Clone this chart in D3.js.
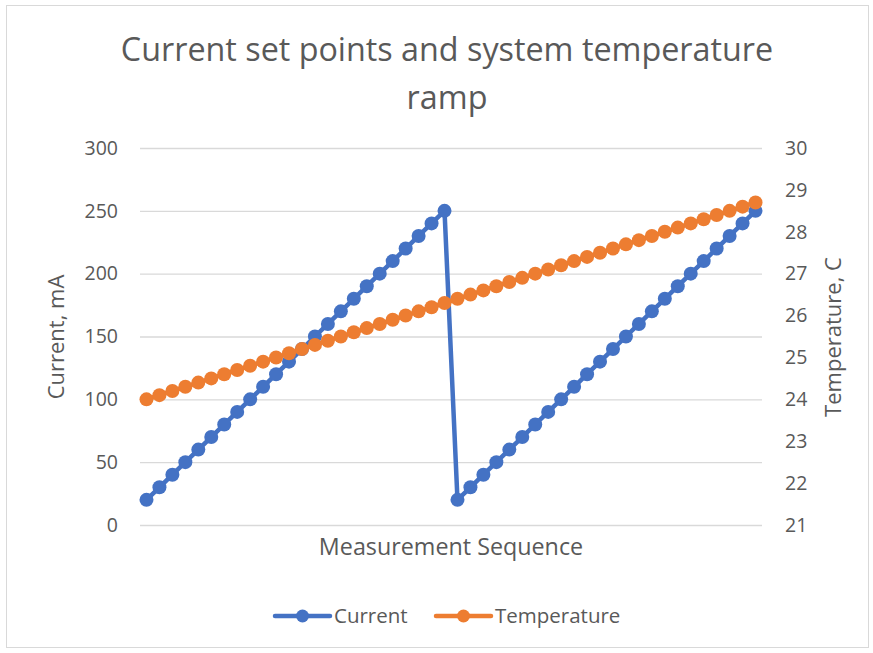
<!DOCTYPE html>
<html>
<head>
<meta charset="utf-8">
<script src="https://cdn.jsdelivr.net/npm/d3@7/dist/d3.min.js"></script>
<style>
  html, body { margin: 0; padding: 0; background: #fff; }
  svg { display: block; }
  text { font-family: "Open Sans", Lato, sans-serif; fill: #595959; }
</style>
</head>
<body>
<svg id="chart" width="873" height="653"></svg>
<script>
// Measurement sequence: two current sweeps of 24 set points each
const sequence = d3.range(1, 49);
const currentMA = [
  20, 30, 40, 50, 60, 70, 80, 90, 100, 110, 120, 130,
  140, 150, 160, 170, 180, 190, 200, 210, 220, 230, 240, 250,
  20, 30, 40, 50, 60, 70, 80, 90, 100, 110, 120, 130,
  140, 150, 160, 170, 180, 190, 200, 210, 220, 230, 240, 250
];
const temperatureC = [
  24.0, 24.1, 24.2, 24.3, 24.4, 24.5, 24.6, 24.7, 24.8, 24.9, 25.0, 25.1,
  25.2, 25.3, 25.4, 25.5, 25.6, 25.7, 25.8, 25.9, 26.0, 26.1, 26.2, 26.3,
  26.4, 26.5, 26.6, 26.7, 26.8, 26.9, 27.0, 27.1, 27.2, 27.3, 27.4, 27.5,
  27.6, 27.7, 27.8, 27.9, 28.0, 28.1, 28.2, 28.3, 28.4, 28.5, 28.6, 28.7
];
const currentTicks = [0, 50, 100, 150, 200, 250, 300];
const temperatureTicks = [21, 22, 23, 24, 25, 26, 27, 28, 29, 30];

const BLUE = "#4472C4", ORANGE = "#ED7D31";
const svg = d3.select("#chart");
const plot = { left: 140, right: 762, top: 148, bottom: 525 };

// Chart frame
svg.append("rect")
  .attr("x", 6.5).attr("y", 5.5).attr("width", 862).attr("height", 642)
  .attr("fill", "#fff").attr("stroke", "#d9d9d9").attr("stroke-width", 1);

const x = d3.scalePoint().domain(sequence)
  .range([plot.left, plot.right]).padding(0.5);
const yL = d3.scaleLinear().domain([0, 300]).range([plot.bottom, plot.top]);
const yR = d3.scaleLinear().domain([21, 30]).range([plot.bottom, plot.top]);

// Gridlines
svg.append("g").selectAll("line").data(currentTicks).join("line")
  .attr("x1", plot.left).attr("x2", plot.right)
  .attr("y1", d => yL(d) + 0.5).attr("y2", d => yL(d) + 0.5)
  .attr("stroke", "#d9d9d9").attr("stroke-width", 1.3);

// Left axis
const axL = svg.append("g").attr("transform", `translate(${plot.left - 22},0)`)
  .call(d3.axisLeft(yL).tickValues(currentTicks).tickSize(0).tickPadding(0));
axL.select(".domain").remove();
axL.selectAll("text").attr("font-size", 19.5).attr("fill", "#595959");

// Right axis
const axR = svg.append("g").attr("transform", `translate(${plot.right + 23},0)`)
  .call(d3.axisRight(yR).tickValues(temperatureTicks).tickSize(0).tickPadding(0));
axR.select(".domain").remove();
axR.selectAll("text").attr("font-size", 19.5).attr("fill", "#595959");

// Title
const title = svg.append("text").attr("text-anchor", "middle")
  .attr("font-size", 32.3).attr("fill", "#595959");
title.append("tspan").attr("x", 447).attr("y", 61).text("Current set points and system temperature");
title.append("tspan").attr("x", 447).attr("y", 109).text("ramp");

// Axis titles
svg.append("text").attr("text-anchor", "middle").attr("font-size", 22)
  .attr("transform", "translate(64,337) rotate(-90)").text("Current, mA");
svg.append("text").attr("text-anchor", "middle").attr("font-size", 22)
  .attr("transform", "translate(841,337) rotate(-90)").text("Temperature, C");
svg.append("text").attr("text-anchor", "middle").attr("font-size", 23.3)
  .attr("x", 451).attr("y", 555).text("Measurement Sequence");

// Series
function drawSeries(values, yScale, color) {
  const g = svg.append("g");
  g.append("path").datum(values)
    .attr("fill", "none").attr("stroke", color).attr("stroke-width", 4.5)
    .attr("stroke-linejoin", "round").attr("stroke-linecap", "round")
    .attr("d", d3.line().x((d, i) => x(sequence[i])).y(d => yScale(d)));
  g.selectAll("circle").data(values).join("circle")
    .attr("cx", (d, i) => x(sequence[i])).attr("cy", d => yScale(d))
    .attr("r", 7).attr("fill", color);
}
drawSeries(currentMA, yL, BLUE);
drawSeries(temperatureC, yR, ORANGE);

// Legend
const legend = [
  { name: "Current", color: BLUE, x: 275 },
  { name: "Temperature", color: ORANGE, x: 436 }
];
const lg = svg.append("g").selectAll("g").data(legend).join("g")
  .attr("transform", d => `translate(${d.x},616)`);
lg.append("line").attr("x1", 0).attr("x2", 55).attr("y1", 0).attr("y2", 0)
  .attr("stroke", d => d.color).attr("stroke-width", 4.5).attr("stroke-linecap", "round");
lg.append("circle").attr("cx", 27.5).attr("cy", 0).attr("r", 6.5).attr("fill", d => d.color);
lg.append("text").attr("x", 59).attr("y", 7).attr("font-size", 20.5).text(d => d.name);
</script>
</body>
</html>
